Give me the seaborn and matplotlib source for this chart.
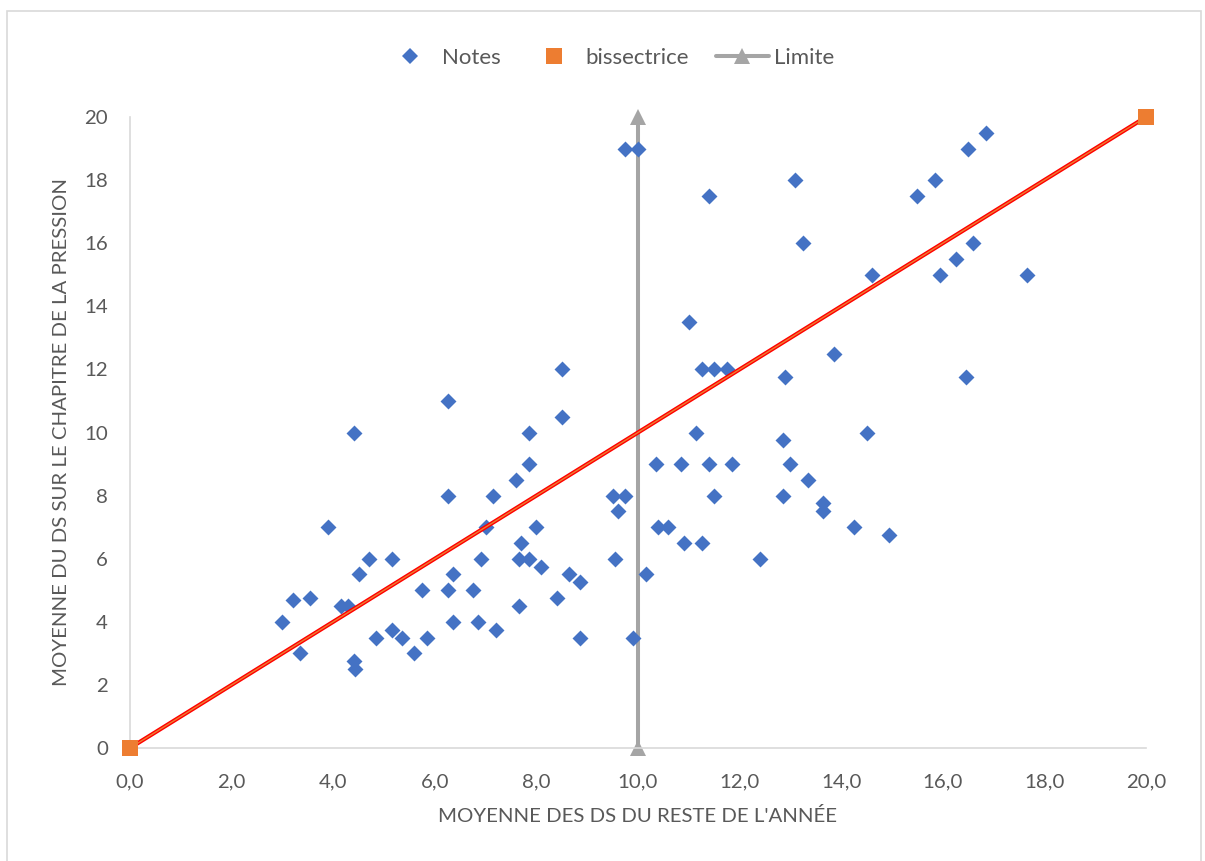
import matplotlib
matplotlib.use("Agg")
import matplotlib.pyplot as plt
import seaborn as sns
import pandas as pd
from matplotlib.lines import Line2D
from matplotlib.patches import Rectangle
from matplotlib.ticker import FuncFormatter

# ---- data ----
notes_x = [3.0, 3.2, 3.35, 3.55, 3.9, 4.15, 4.3, 4.4, 4.4, 4.43, 4.5, 4.7, 4.85, 5.15, 5.15,
           5.35, 5.6, 5.75, 5.85, 6.25, 6.25, 6.25, 6.35, 6.35, 6.75, 6.85, 6.9, 7.0, 7.15, 7.2,
           7.6, 7.65, 7.65, 7.7, 7.85, 7.85, 7.85, 8.0, 8.1, 8.4, 8.5, 8.5, 8.65, 8.85, 8.85,
           9.5, 9.75, 9.6, 9.55, 9.9, 9.75, 10.0, 11.4, 13.1, 13.25, 14.6, 11.0, 11.25, 11.5, 11.75,
           12.9, 13.85, 11.15, 10.35, 10.85, 11.4, 11.85, 11.5, 12.85, 13.0, 13.35, 12.85, 13.65, 13.65, 14.25,
           14.95, 14.5, 10.4, 10.6, 10.9, 11.25, 12.4, 10.15, 16.85, 16.5, 15.85, 15.5, 16.6, 16.25, 15.95,
           17.65, 16.45]
notes_y = [4.0, 4.7, 3.0, 4.75, 7.0, 4.5, 4.5, 10.0, 2.75, 2.5, 5.5, 6.0, 3.5, 6.0, 3.75,
           3.5, 3.0, 5.0, 3.5, 11.0, 8.0, 5.0, 5.5, 4.0, 5.0, 4.0, 6.0, 7.0, 8.0, 3.75,
           8.5, 4.5, 6.0, 6.5, 9.0, 10.0, 6.0, 7.0, 5.75, 4.75, 12.0, 10.5, 5.5, 5.25, 3.5,
           8.0, 8.0, 7.5, 6.0, 3.5, 19.0, 19.0, 17.5, 18.0, 16.0, 15.0, 13.5, 12.0, 12.0, 12.0,
           11.75, 12.5, 10.0, 9.0, 9.0, 9.0, 9.0, 8.0, 9.75, 9.0, 8.5, 8.0, 7.75, 7.5, 7.0,
           6.75, 10.0, 7.0, 7.0, 6.5, 6.5, 6.0, 5.5, 19.5, 19.0, 18.0, 17.5, 16.0, 15.5, 15.0,
           15.0, 11.75]
bis_x = [0, 20]
bis_y = [0, 20]
lim_x = [10, 10]
lim_y = [0, 20]
x_ticks = [0, 2, 4, 6, 8, 10, 12, 14, 16, 18, 20]
y_ticks = [0, 2, 4, 6, 8, 10, 12, 14, 16, 18, 20]
series_labels = ["Notes", "bissectrice", "Limite"]
x_title = "MOYENNE DES DS DU RESTE DE L'ANNÉE"
y_title = "MOYENNE DU DS SUR LE CHAPITRE DE LA PRESSION"

BLUE = "#4472C4"
ORANGE = "#ED7D31"
GRAY = "#A5A5A5"
RED = "#FF0000"
TXT = "#595959"
AX = "#D9D9D9"

sns.set_theme(style="white")
plt.rcParams["font.family"] = ["Lato", "DejaVu Sans"]
FS = 14.7
LFS = 16

W, H = 1205, 861
fig = plt.figure(figsize=(W / 100, H / 100), dpi=100)
ax = fig.add_axes([130 / W, 1 - 748 / H, (1146 - 130) / W, (748 - 117) / H])

# Limite line (bottom)
sns.lineplot(x=lim_x, y=lim_y, ax=ax, color=GRAY, linewidth=2.9, marker="^",
             markersize=12, markeredgewidth=0, zorder=2, clip_on=False, legend=False,
             estimator=None, sort=False)
# Notes
notes = pd.DataFrame({"x": notes_x, "y": notes_y})
sns.scatterplot(data=notes, x="x", y="y", ax=ax, color=BLUE, marker="D", s=66,
                linewidth=0, zorder=3, clip_on=False, legend=False)
# bissectrice line (red with orange core)
sns.lineplot(x=bis_x, y=bis_y, ax=ax, color=RED, linewidth=3.0, zorder=4, legend=False,
             estimator=None, sort=False)
sns.lineplot(x=bis_x, y=bis_y, ax=ax, color=ORANGE, linewidth=1.0, zorder=4.1, legend=False,
             estimator=None, sort=False)
sns.scatterplot(x=bis_x, y=bis_y, ax=ax, color=ORANGE, marker="s", s=140, linewidth=0,
                zorder=5, clip_on=False, legend=False)

ax.set_xlim(0, 20)
ax.set_ylim(0, 20)
ax.set_xticks(x_ticks)
ax.set_yticks(y_ticks)
ax.xaxis.set_major_formatter(FuncFormatter(lambda v, p: f"{v:.1f}".replace(".", ",")))
ax.yaxis.set_major_formatter(FuncFormatter(lambda v, p: f"{int(round(v))}"))
ax.tick_params(axis="both", length=0, labelsize=FS, labelcolor=TXT)
ax.tick_params(axis="x", pad=18)
ax.tick_params(axis="y", pad=16)
for s in ["top", "right"]:
    ax.spines[s].set_visible(False)
for s in ["left", "bottom"]:
    ax.spines[s].set_color(AX)
    ax.spines[s].set_linewidth(1.2)
ax.grid(False)
ax.set_facecolor("white")

ax.set_xlabel(x_title, fontsize=FS, color=TXT, labelpad=12)
ax.set_ylabel(y_title, fontsize=FS, color=TXT, labelpad=10)

handles = [
    Line2D([], [], linestyle="none", marker="D", color=BLUE, markersize=8.5, markeredgewidth=0),
    Line2D([], [], linestyle="none", marker="s", color=ORANGE, markersize=11, markeredgewidth=0),
    Line2D([], [], color=GRAY, linewidth=2.9, marker="^", markersize=12, markeredgewidth=0),
]
leg = fig.legend(handles, series_labels, loc="center", bbox_to_anchor=(609 / W, 1 - 58 / H),
                 ncol=3, frameon=False, fontsize=LFS, handlelength=2.4, handletextpad=0.22,
                 columnspacing=1.2, labelcolor=TXT)

fig.patches.append(Rectangle((7 / W, -0.01), (1201 - 7) / W, 1 - 11 / H + 0.01,
                             transform=fig.transFigure, fill=False, edgecolor=AX,
                             linewidth=1.2, zorder=0))

fig.savefig("out.png", dpi=100, facecolor="white")
